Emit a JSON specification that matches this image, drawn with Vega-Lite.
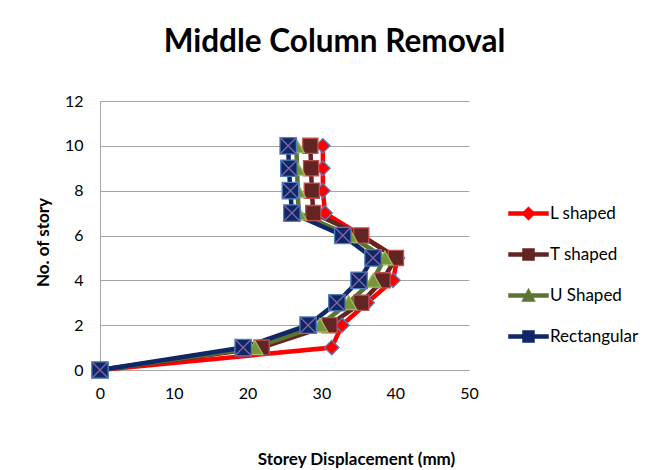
{
  "$schema": "https://vega.github.io/schema/vega-lite/v6.json",
  "width": 369,
  "height": 269,
  "autosize": {"type": "none"},
  "padding": {"left": 100, "top": 101, "right": 190, "bottom": 100},
  "background": "white",
  "config": {
    "view": {"stroke": null},
    "font": "Lato",
    "axis": {"labelFont": "Lato", "labelFontSize": 16, "labelColor": "#000000", "titleFont": "Lato", "titleFontSize": 17, "titleFontWeight": "bold", "titleColor": "#000000", "domainColor": "#A6A6A6", "gridColor": "#A6A6A6", "ticks": false, "labelFlush": false}
  },
  "title": {"text": "Middle Column Removal", "font": "Lato", "fontSize": 31.5, "fontWeight": "bold", "color": "#000000", "anchor": "middle", "dx": 50, "offset": 10, "baseline": "alphabetic"},
  "data": {"values": [
    {"series": "L shaped", "story": 0, "disp": 0},
    {"series": "L shaped", "story": 1, "disp": 31.4},
    {"series": "L shaped", "story": 2, "disp": 32.8},
    {"series": "L shaped", "story": 3, "disp": 36.2},
    {"series": "L shaped", "story": 4, "disp": 39.7},
    {"series": "L shaped", "story": 5, "disp": 40.3},
    {"series": "L shaped", "story": 6, "disp": 35.4},
    {"series": "L shaped", "story": 7, "disp": 30.5},
    {"series": "L shaped", "story": 8, "disp": 30.2},
    {"series": "L shaped", "story": 9, "disp": 30.2},
    {"series": "L shaped", "story": 10, "disp": 30.2},
    {"series": "T shaped", "story": 0, "disp": 0},
    {"series": "T shaped", "story": 1, "disp": 21.9},
    {"series": "T shaped", "story": 2, "disp": 31.1},
    {"series": "T shaped", "story": 3, "disp": 35.4},
    {"series": "T shaped", "story": 4, "disp": 38.3},
    {"series": "T shaped", "story": 5, "disp": 40.1},
    {"series": "T shaped", "story": 6, "disp": 35.4},
    {"series": "T shaped", "story": 7, "disp": 28.9},
    {"series": "T shaped", "story": 8, "disp": 28.7},
    {"series": "T shaped", "story": 9, "disp": 28.6},
    {"series": "T shaped", "story": 10, "disp": 28.5},
    {"series": "U Shaped", "story": 0, "disp": 0},
    {"series": "U Shaped", "story": 1, "disp": 21.0},
    {"series": "U Shaped", "story": 2, "disp": 29.8},
    {"series": "U Shaped", "story": 3, "disp": 33.7},
    {"series": "U Shaped", "story": 4, "disp": 37.0},
    {"series": "U Shaped", "story": 5, "disp": 38.6},
    {"series": "U Shaped", "story": 6, "disp": 33.8},
    {"series": "U Shaped", "story": 7, "disp": 26.9},
    {"series": "U Shaped", "story": 8, "disp": 26.8},
    {"series": "U Shaped", "story": 9, "disp": 26.7},
    {"series": "U Shaped", "story": 10, "disp": 26.6},
    {"series": "Rectangular", "story": 0, "disp": 0},
    {"series": "Rectangular", "story": 1, "disp": 19.4},
    {"series": "Rectangular", "story": 2, "disp": 28.2},
    {"series": "Rectangular", "story": 3, "disp": 32.1},
    {"series": "Rectangular", "story": 4, "disp": 35.1},
    {"series": "Rectangular", "story": 5, "disp": 37.0},
    {"series": "Rectangular", "story": 6, "disp": 32.9},
    {"series": "Rectangular", "story": 7, "disp": 26.0},
    {"series": "Rectangular", "story": 8, "disp": 25.8},
    {"series": "Rectangular", "story": 9, "disp": 25.6},
    {"series": "Rectangular", "story": 10, "disp": 25.5}
  ]},
  "encoding": {
    "x": {"field": "disp", "type": "quantitative", "scale": {"domain": [0, 50], "nice": false},
      "axis": {"values": [0, 10, 20, 30, 40, 50], "grid": false, "labelPadding": 15, "title": "Storey Displacement (mm)", "titleX": 256, "titleY": 94, "titleBaseline": "alphabetic", "titleAnchor": "middle", "titleAlign": "center"}},
    "y": {"field": "story", "type": "quantitative", "scale": {"domain": [0, 12], "nice": false},
      "axis": {"values": [0, 2, 4, 6, 8, 10, 12], "grid": true, "labelPadding": 17, "title": "No. of story", "titlePadding": 12, "titleY": 141}}
  },
  "layer": [
    {
      "mark": {"type": "line", "strokeWidth": 4.5},
      "encoding": {
        "order": {"field": "story", "type": "quantitative"},
        "color": {"field": "series", "type": "nominal",
          "scale": {"domain": ["L shaped", "T shaped", "U Shaped", "Rectangular"], "range": ["#FF0000", "#632523", "#5C7430", "#0F2766"]},
          "legend": {
            "title": null, "orient": "none", "legendX": 408, "legendY": 92, "padding": 0,
            "symbolSize": 1600, "rowPadding": 12, "labelFont": "Lato", "labelFontSize": 17, "labelColor": "#000000", "labelOffset": 1, "labelLimit": 200,
            "encode": {"symbols": {"update": {
              "shape": {"signal": "datum.value === 'L shaped' ? 'M-1,-0.1H1V0.1H-1Z M0,-0.34L0.34,0L0,0.34L-0.34,0Z' : datum.value === 'U Shaped' ? 'M-1,-0.1H1V0.1H-1Z M0,-0.36L0.34,0.3L-0.34,0.3Z' : 'M-1,-0.1H1V0.1H-1Z M-0.3,-0.3H0.3V0.3H-0.3Z'"},
              "fill": {"signal": "datum.value === 'L shaped' ? '#FF0000' : datum.value === 'T shaped' ? '#632523' : datum.value === 'U Shaped' ? '#5C7430' : '#0F2766'"},
              "stroke": {"signal": "datum.value === 'L shaped' ? '#FF0000' : datum.value === 'T shaped' ? '#632523' : datum.value === 'U Shaped' ? '#5C7430' : '#0F2766'"},
              "strokeWidth": {"value": 0.5},
              "opacity": {"value": 1}
            }}}
          }}
      }
    },
    {
      "mark": {"type": "point", "filled": true, "opacity": 1, "strokeWidth": 1.3},
      "encoding": {
        "shape": {"field": "series", "type": "nominal", "scale": {"domain": ["L shaped", "T shaped", "U Shaped", "Rectangular"], "range": ["diamond", "square", "triangle-up", "square"]}, "legend": null},
        "fill": {"field": "series", "type": "nominal", "scale": {"domain": ["L shaped", "T shaped", "U Shaped", "Rectangular"], "range": ["#FF0000", "#632523", "#77933C", "#0F2766"]}, "legend": null},
        "stroke": {"field": "series", "type": "nominal", "scale": {"domain": ["L shaped", "T shaped", "U Shaped", "Rectangular"], "range": ["#4F81BD", "#C0504D", "#9BBB59", "#4F81BD"]}, "legend": null},
        "size": {"field": "series", "type": "nominal", "scale": {"domain": ["L shaped", "T shaped", "U Shaped", "Rectangular"], "range": [210, 270, 200, 330]}, "legend": null}
      }
    },
    {
      "transform": [{"filter": "datum.series === 'Rectangular'"}],
      "mark": {"type": "point", "shape": "M-0.85,-0.85L0.85,0.85M-0.85,0.85L0.85,-0.85", "filled": false, "stroke": "#8064A2", "strokeWidth": 1.4, "size": 330, "opacity": 1}
    }
  ],
  "resolve": {"scale": {"shape": "independent", "fill": "independent", "stroke": "independent", "size": "independent"}}
}
